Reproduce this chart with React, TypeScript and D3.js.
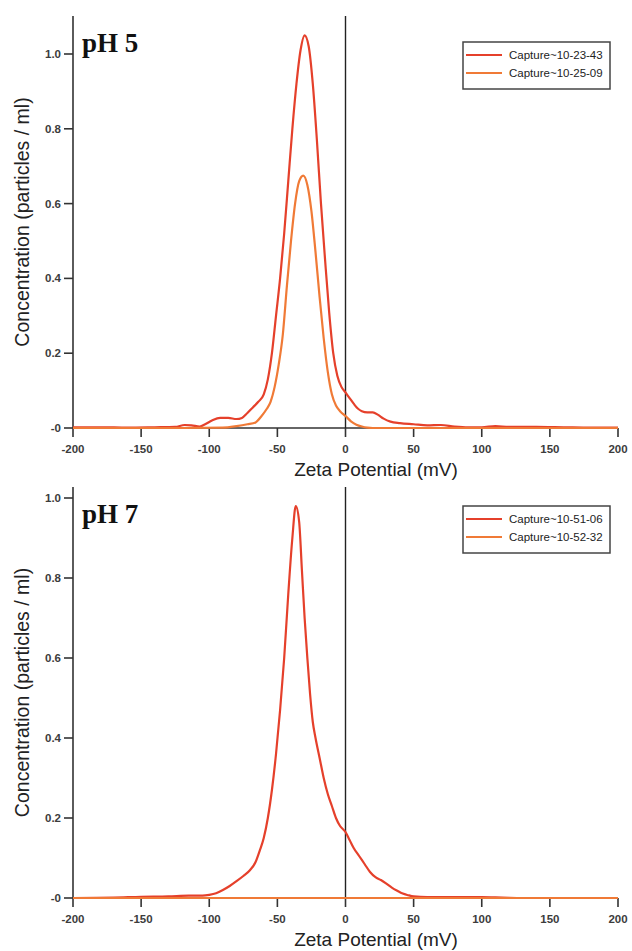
import React from 'react';
import * as d3 from 'd3';

// ---------- data ----------
const xTicks = [-200, -150, -100, -50, 0, 50, 100, 150, 200];
const yTicks = [0, 0.2, 0.4, 0.6, 0.8, 1.0];
const yTickLabels = ['-0', '0.2', '0.4', '0.6', '0.8', '1.0'];

const ph5Names = ['Capture~10-23-43', 'Capture~10-25-09'];
const ph7Names = ['Capture~10-51-06', 'Capture~10-52-32'];

const ph5Capture1: [number, number][] = [
  [-200, 0.002], [-180, 0.002], [-160, 0.001], [-140, 0.002], [-125, 0.003], [-118, 0.008],
  [-113, 0.007], [-107, 0.004], [-103, 0.01], [-98, 0.02], [-92, 0.027], [-86, 0.027],
  [-80, 0.024], [-76, 0.027], [-72, 0.04], [-68, 0.055], [-64, 0.07], [-60, 0.09],
  [-57, 0.13], [-54, 0.2], [-51, 0.3], [-48, 0.4], [-45, 0.52], [-42, 0.66], [-39, 0.8],
  [-36, 0.92], [-33, 1.01], [-30, 1.05], [-27, 1.02], [-24, 0.92], [-21, 0.77], [-18, 0.6],
  [-15, 0.45], [-12, 0.31], [-9, 0.2], [-6, 0.14], [-3, 0.11], [0, 0.095], [3, 0.08],
  [6, 0.065], [9, 0.052], [12, 0.045], [16, 0.042], [20, 0.042], [24, 0.035], [28, 0.025],
  [33, 0.017], [40, 0.013], [50, 0.01], [60, 0.007], [70, 0.008], [80, 0.004], [90, 0.002],
  [100, 0.002], [110, 0.005], [120, 0.003], [140, 0.003], [160, 0.002], [180, 0.001], [200, 0.001],
];

const ph5Capture2: [number, number][] = [
  [-200, 0], [-120, 0], [-90, 0.001], [-80, 0.005], [-72, 0.01], [-66, 0.015], [-62, 0.03],
  [-58, 0.05], [-55, 0.07], [-52, 0.11], [-49, 0.17], [-46, 0.25], [-43, 0.38], [-40, 0.5],
  [-37, 0.6], [-34, 0.66], [-31, 0.675], [-28, 0.65], [-25, 0.58], [-22, 0.47], [-19, 0.35],
  [-16, 0.24], [-13, 0.15], [-10, 0.09], [-7, 0.06], [-4, 0.045], [0, 0.032], [4, 0.018],
  [8, 0.009], [12, 0.004], [16, 0.001], [20, 0], [200, 0],
];

const ph7Capture1: [number, number][] = [
  [-200, 0], [-170, 0.001], [-150, 0.003], [-130, 0.004], [-115, 0.006], [-105, 0.006],
  [-100, 0.008], [-95, 0.012], [-90, 0.02], [-85, 0.03], [-80, 0.042], [-75, 0.055],
  [-70, 0.07], [-66, 0.09], [-63, 0.118], [-60, 0.15], [-57, 0.2], [-54, 0.27], [-51, 0.36],
  [-48, 0.47], [-45, 0.6], [-42, 0.76], [-39, 0.9], [-36.5, 0.98], [-34, 0.94], [-32, 0.82],
  [-30, 0.7], [-28, 0.6], [-26, 0.51], [-24, 0.44], [-22, 0.4], [-19, 0.35], [-16, 0.3],
  [-13, 0.26], [-10, 0.23], [-7, 0.2], [-4, 0.18], [0, 0.165], [3, 0.145], [6, 0.125],
  [10, 0.105], [14, 0.085], [18, 0.065], [22, 0.052], [26, 0.045], [30, 0.036], [34, 0.026],
  [38, 0.018], [42, 0.011], [46, 0.007], [50, 0.004], [60, 0.002], [80, 0.002], [100, 0.002],
  [115, 0.001], [130, 0], [200, 0],
];

const ph7Capture2: [number, number][] = [
  [-200, 0], [-100, 0], [0, 0], [100, 0], [200, 0],
];

const seriesColors = ['#e5402b', '#f07a36'];

// ---------- panel ----------
type PanelProps = {
  label: string;
  names: string[];
  series: [number, number][][];
  axisTop: number;
  y0: number;
  y1: number;
  legendTop: number;
};

const X_LEFT = 73;
const X_RIGHT = 618;

function Panel({ label, names, series, axisTop, y0, y1, legendTop }: PanelProps) {
  const x = d3.scaleLinear().domain([-200, 200]).range([X_LEFT, X_RIGHT]);
  const y = d3.scaleLinear().domain([0, 1]).range([y0, y1]);
  const yMax = y.invert(axisTop);
  const line = d3
    .line<[number, number]>()
    .x((d) => x(d[0]))
    .y((d) => y(d[1]))
    .curve(d3.curveMonotoneX);

  const tickFont = { fontFamily: 'Liberation Sans, Arial, sans-serif', fontSize: 11.5, fontWeight: 700 as const, fill: '#3c3c3c' };
  const sans = 'Liberation Sans, Arial, sans-serif';
  const legendLeft = 463;
  const legendRight = 610;
  const rowH = 18;

  return (
    <g>
      {/* y axis */}
      <line x1={x(-200)} x2={x(-200)} y1={y(yMax)} y2={y(0)} stroke="#333" strokeWidth={1.6} />
      {yTicks.map((t, i) => (
        <g key={'yt' + i}>
          <line x1={x(-200) - 9} x2={x(-200)} y1={y(t)} y2={y(t)} stroke="#333" strokeWidth={1.6} />
          <text x={x(-200) - 12} y={y(t)} dy="0.35em" textAnchor="end" {...tickFont}>
            {yTickLabels[i]}
          </text>
        </g>
      ))}
      {/* x axis */}
      <line x1={x(-200)} x2={x(200)} y1={y(0)} y2={y(0)} stroke="#333" strokeWidth={1.6} />
      {xTicks.map((t) => (
        <g key={'xt' + t}>
          <line x1={x(t)} x2={x(t)} y1={y(0)} y2={y(0) + 9} stroke="#333" strokeWidth={1.6} />
          <text x={x(t)} y={y(0) + 21} dy="0.35em" textAnchor="middle" {...tickFont}>
            {t}
          </text>
        </g>
      ))}
      {/* zero line */}
      <line x1={x(0)} x2={x(0)} y1={y(yMax)} y2={y(0)} stroke="#222" strokeWidth={1.4} />
      {/* curves */}
      {series.map((s, i) => (
        <path key={'s' + i} d={line(s) || ''} fill="none" stroke={seriesColors[i]} strokeWidth={2.2} strokeLinejoin="round" />
      ))}
      {/* titles */}
      <text x={376} y={y(0) + 48} textAnchor="middle" fontFamily={sans} fontSize={19} fill="#222">
        Zeta Potential (mV)
      </text>
      <text
        transform={`translate(29, ${(y(0) + y(yMax)) / 2}) rotate(-90)`}
        textAnchor="middle"
        fontFamily={sans}
        fontSize={19.5}
        fill="#222"
      >
        Concentration (particles / ml)
      </text>
      <text x={82} y={axisTop + 36} fontFamily="Liberation Serif, Times New Roman, serif" fontWeight={700} fontSize={27} fill="#111">
        {label}
      </text>
      {/* legend */}
      <rect x={legendLeft} y={legendTop} width={legendRight - legendLeft} height={47} fill="#fff" stroke="#444" strokeWidth={1.5} />
      {names.map((n, i) => (
        <g key={'lg' + i}>
          <line
            x1={legendLeft + 3}
            x2={legendLeft + 39}
            y1={legendTop + 13 + i * rowH}
            y2={legendTop + 13 + i * rowH}
            stroke={seriesColors[i]}
            strokeWidth={2}
          />
          <text
            x={legendLeft + 46}
            y={legendTop + 13 + i * rowH}
            dy="0.35em"
            fontFamily={sans}
            fontSize={11.5}
            fill="#222"
          >
            {n}
          </text>
        </g>
      ))}
    </g>
  );
}

export default function App() {
  return (
    <svg
      width={632}
      height={951}
      viewBox="0 0 632 951"
      style={{ position: 'absolute', left: 0, top: 0, background: '#fff' }}
    >
      <rect x={0} y={0} width={632} height={951} fill="#fff" />
      <Panel
        label="pH 5"
        names={ph5Names}
        series={[ph5Capture1, ph5Capture2]}
        axisTop={16}
        y0={428}
        y1={54}
        legendTop={42}
      />
      <Panel
        label="pH 7"
        names={ph7Names}
        series={[ph7Capture1, ph7Capture2]}
        axisTop={487}
        y0={898}
        y1={498}
        legendTop={506}
      />
    </svg>
  );
}
